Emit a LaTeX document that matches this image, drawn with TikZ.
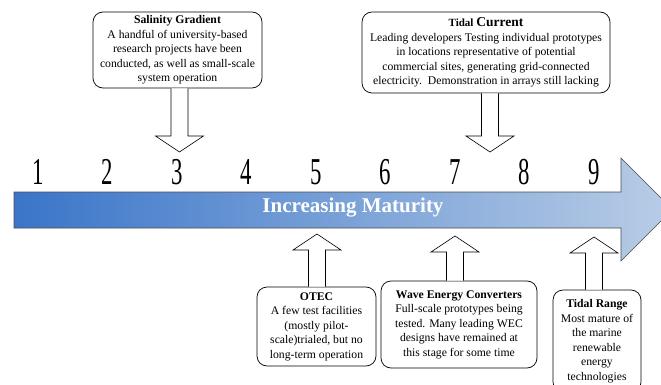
\documentclass[tikz,border=0pt]{standalone}
\usepackage{fontspec}
\setmainfont{Liberation Serif}
\usetikzlibrary{calc}
\definecolor{darkblue}{HTML}{3A75C9}
\definecolor{paleblue}{HTML}{B9CDE6}
\tikzstyle{info} = [draw, rounded corners=10pt, fill=white, align=center, inner sep=2pt, font=\fontsize{11.7}{14.5}\selectfont, line width=0.7pt]
\tikzstyle{stage} = [font=\fontsize{38}{38}\selectfont, inner sep=0pt]
\tikzstyle{hollow} = [draw, fill=white, line width=0.6pt]
% open block arrow from #1 to #2, #3 = 1 points down, -1 points up
\newcommand{\blockarrow}[3]{%
  \draw[hollow] let \p1=(#1), \p2=(#2) in
    (\x2-8.5pt,\y1) -- (\x2-8.5pt,\y2+#3*16pt) -- (\x2-24pt,\y2+#3*16pt) -- (\x2,\y2)
    -- (\x2+24pt,\y2+#3*16pt) -- (\x2+8.5pt,\y2+#3*16pt) -- (\x2+8.5pt,\y1);}

\begin{document}
\begin{tikzpicture}[x=1pt,y=-1pt]
        \useasboundingbox (0,0) rectangle (661,385);
        \clip (0,0) rectangle (661,385);
        %Maturity arrow
        \path[left color=darkblue, right color=paleblue, draw=black!70, line width=0.6pt]
            (14,192) -- (621,192) -- (621,158) -- (672.5,209.5) -- (621,261) -- (621,228) -- (14,228) -- cycle;
        \node[font=\fontsize{21}{21}\selectfont\bfseries, text=white] (maturity) at (353,208) {Increasing Maturity};
        %Stages
        \foreach \i in {1,...,9}
            \node[stage] (n\i) at ({38+69.5*(\i-1)},172) {\scalebox{0.6}[1]{\i}};
        %Blocks
        \node[info, minimum width=169pt, minimum height=76pt] (salinity) at (177.5,50)
            {\textbf{Salinity Gradient}\\A handful of university-based\\research projects have been\\conducted, as well as small-scale\\system operation};
        \node[info, minimum width=248pt, minimum height=81pt] (current) at (486,52.5)
            {\textbf{\fontsize{11}{14.5}\selectfont Tidal} \textbf{\fontsize{13.5}{14.5}\selectfont Current}\\Leading developers Testing individual prototypes\\in locations representative of potential\\commercial sites, generating grid-connected\\electricity.\ \ Demonstration in arrays still lacking};
        \node[info, minimum width=119pt, minimum height=79pt] (otec) at (316.5,326.5)
            {\textbf{OTEC}\\A few test facilities\\(mostly pilot-\\scale)trialed, but no\\long-term operation};
        \node[info, minimum width=156pt, minimum height=87pt] (wave) at (459,324.5)
            {\textbf{Wave Energy Converters}\\Full-scale prototypes being\\tested. Many leading WEC\\designs have remained at\\this stage for some time};
        \node[info, minimum width=88pt, minimum height=102pt] (range) at (597,341)
            {\textbf{Tidal Range}\\Most mature of\\the marine\\renewable\\energy\\technologies};
        %Arrows
        \coordinate (t3) at (179.5,152);
        \coordinate (t7) at (490,152);
        \coordinate (t5) at (317,234);
        \coordinate (t7b) at (455,236);
        \coordinate (t9) at (594,237);
        \blockarrow{salinity.south}{t3}{1}
        \blockarrow{current.south}{t7}{1}
        \blockarrow{otec.north}{t5}{-1}
        \blockarrow{wave.north}{t7b}{-1}
        \blockarrow{range.north}{t9}{-1}
    \end{tikzpicture}
\end{document}
